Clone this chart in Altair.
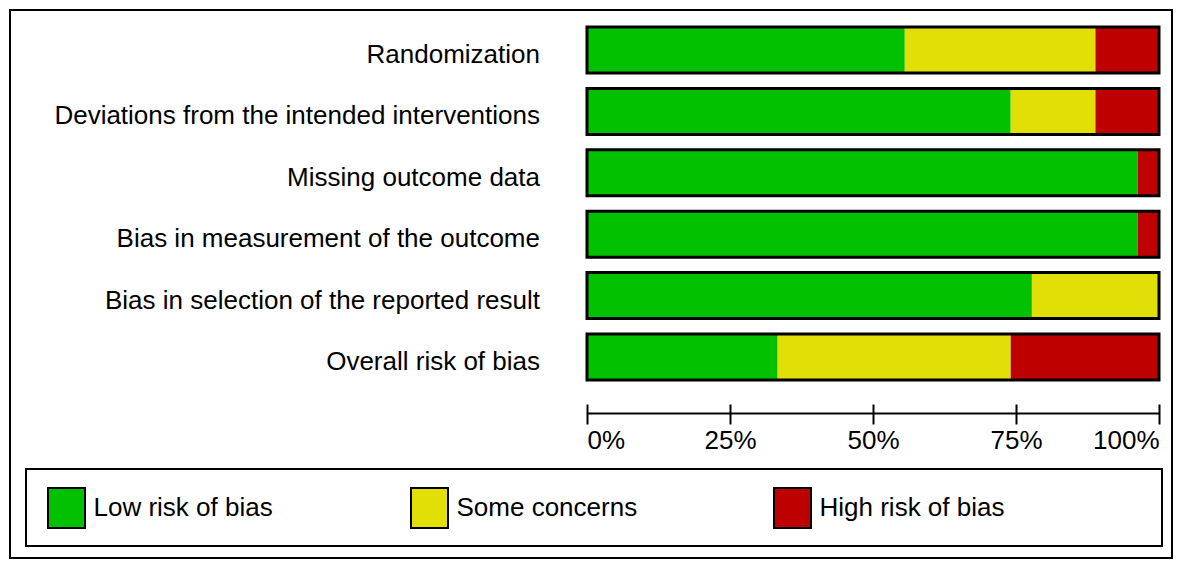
import altair as alt
import pandas as pd

# ---- data (27 studies) ----
domains = [
    "Randomization",
    "Deviations from the intended interventions",
    "Missing outcome data",
    "Bias in measurement of the outcome",
    "Bias in selection of the reported result",
    "Overall risk of bias",
]
levels = ["Low risk of bias", "Some concerns", "High risk of bias"]
colors = ["#02C100", "#E2DF07", "#BF0000"]
low_counts = [15, 20, 26, 26, 21, 9]
some_counts = [9, 4, 0, 0, 6, 11]
high_counts = [3, 3, 1, 1, 0, 7]
tick_values = [0, 0.25, 0.5, 0.75, 1]

rows = []
for i, d in enumerate(domains):
    for j, (lvl, vals) in enumerate(zip(levels, [low_counts, some_counts, high_counts])):
        rows.append({"domain": d, "level": lvl, "order": j, "count": vals[i]})
df = pd.DataFrame(rows)
dom_df = pd.DataFrame({"domain": domains})

FONT = "Liberation Sans"
H = 548

x_scale = alt.Scale(domain=[0, 1], range=[577, 1149], nice=False, zero=True)
x_axis = alt.Axis(
    values=tick_values, format=".0%", orient="bottom", offset=394 - H,
    domain=False, grid=False, ticks=True, tickSize=20, tickWidth=2,
    tickColor="black", labelFontSize=26, labelFont=FONT, labelFlush=True,
    labelPadding=3, labelColor="black", title=None,
)
y_enc = alt.Y(
    "domain:N", sort=domains,
    scale=alt.Scale(range=[17, 370], paddingInner=0.25, paddingOuter=0),
    axis=None,
)

sym_path = "M-0.925,-1H0.925V1H-0.925Z"

bars = alt.Chart(df).mark_bar(strokeWidth=0).encode(
    x=alt.X("count:Q", stack="normalize", scale=x_scale, axis=x_axis),
    y=y_enc,
    color=alt.Color(
        "level:N",
        scale=alt.Scale(domain=levels, range=colors),
        legend=alt.Legend(
            orient="none", legendX=35.5, legendY=477, direction="horizontal",
            title=None, symbolType=sym_path, symbolSize=1600,
            symbolStrokeColor="black", symbolStrokeWidth=2, symbolOpacity=1,
            labelFontSize=26, labelFont=FONT, labelColor="black",
            labelOffset=6, columnPadding=128, gridAlign="all", padding=0,
            labelLimit=400,
        ),
    ),
    order=alt.Order("order:Q"),
)

outline = alt.Chart(dom_df).mark_bar(
    fillOpacity=0, stroke="black", strokeWidth=3
).encode(
    x=alt.X(datum=0, scale=x_scale, axis=x_axis),
    x2=alt.X2(datum=1),
    y=y_enc,
)

axis_line = alt.Chart(dom_df.head(1)).mark_rule(
    color="black", strokeWidth=2
).encode(
    x=alt.X(datum=0, scale=x_scale, axis=x_axis),
    x2=alt.X2(datum=1),
    y=alt.value(403.5),
)

labels = alt.Chart(dom_df).mark_text(
    align="right", baseline="middle", dy=5, fontSize=26, font=FONT, color="black"
).encode(
    y=y_enc,
    x=alt.value(530),
    text="domain:N",
)

legend_box = alt.Chart(alt.Data(values=[{"a": 1}])).mark_rect(
    fill=None, stroke="black", strokeWidth=2
).encode(
    x=alt.value(16), x2=alt.value(1152), y=alt.value(459), y2=alt.value(536),
)

chart = alt.layer(bars, outline, axis_line, labels, legend_box).properties(
    width=1162, height=H, padding=2, autosize="none",
).configure(
    font=FONT
).configure_view(
    stroke="black", strokeWidth=2
)

chart.save("out.html", embed_options={"renderer": "svg", "actions": False})
